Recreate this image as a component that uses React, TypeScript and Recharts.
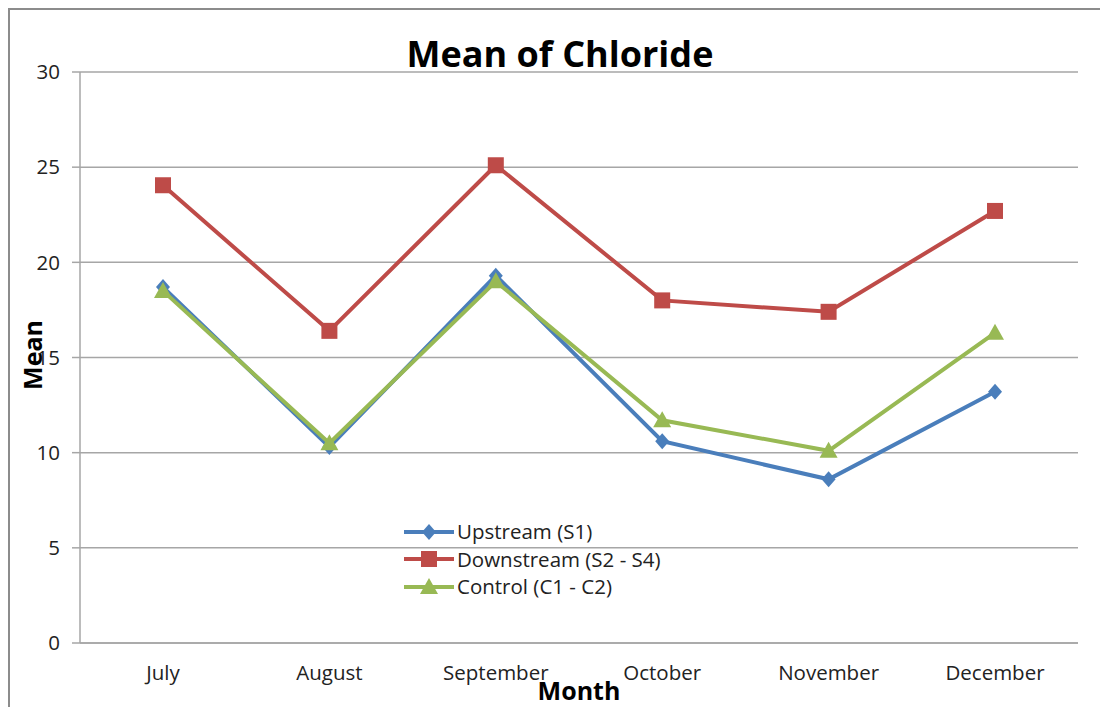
import React from "react";
import { LineChart, Line, XAxis, YAxis, CartesianGrid } from "recharts";

const months = ["July", "August", "September", "October", "November", "December"];
const upstream = [18.7, 10.3, 19.3, 10.6, 8.6, 13.2];
const downstream = [24.05, 16.4, 25.1, 18.0, 17.4, 22.7];
const control = [18.5, 10.5, 19.0, 11.7, 10.1, 16.3];
const yTicks = [0, 5, 10, 15, 20, 25, 30];

const FONT = "'Open Sans', sans-serif";

const SERIES = [
  { key: "up", name: "Upstream (S1)", color: "#4a7ebb", shape: "diamond" },
  { key: "down", name: "Downstream (S2 - S4)", color: "#be4b48", shape: "square" },
  { key: "ctrl", name: "Control (C1 - C2)", color: "#98b954", shape: "triangle" },
];

const data = months.map((m, i) => ({
  month: m,
  up: upstream[i],
  down: downstream[i],
  ctrl: control[i],
}));

function Marker({ cx, cy, shape, color }: { cx: number; cy: number; shape: string; color: string }) {
  if (cx == null || cy == null) return null;
  if (shape === "square") {
    return <rect x={cx - 8} y={cy - 8} width={16} height={16} fill={color} />;
  }
  if (shape === "diamond") {
    return (
      <polygon
        points={`${cx},${cy - 8} ${cx + 7},${cy} ${cx},${cy + 8} ${cx - 7},${cy}`}
        fill={color}
      />
    );
  }
  return (
    <polygon
      points={`${cx},${cy - 9} ${cx + 9},${cy + 7} ${cx - 9},${cy + 7}`}
      fill={color}
    />
  );
}

function LegendBox() {
  return (
    <div
      style={{
        position: "absolute",
        left: 404,
        top: 518,
        fontFamily: FONT,
        fontSize: 20.5,
        color: "#222",
        lineHeight: "27px",
      }}
    >
      {SERIES.map((s) => (
        <div key={s.key} style={{ display: "flex", alignItems: "center", height: 27.5 }}>
          <svg width={52} height={20}>
            <line x1={0} y1={10} x2={50} y2={10} stroke={s.color} strokeWidth={4} />
            <Marker cx={25} cy={10} shape={s.shape} color={s.color} />
          </svg>
          <span style={{ marginLeft: 1 }}>{s.name}</span>
        </div>
      ))}
    </div>
  );
}

export default function App() {
  return (
    <div style={{ position: "absolute", left: 0, top: 0, width: 1100, height: 707, overflow: "hidden", background: "#fff" }}>
      <div
        style={{
          position: "absolute",
          left: 8,
          top: 8,
          width: 1100,
          height: 720,
          border: "2px solid #8c8c8c",
        }}
      />
      <LineChart
        width={1100}
        height={707}
        data={data}
        margin={{ top: 72, right: 22, bottom: 0, left: 0 }}
        style={{ position: "absolute", left: 0, top: 0 }}
      >
        <text x={560} y={67} textAnchor="middle" fontFamily={FONT} fontSize={36} fontWeight="bold" fill="#000">
          Mean of Chloride
        </text>
        <text
          x={32}
          y={355}
          transform="rotate(-90, 32, 355)"
          textAnchor="middle"
          dominantBaseline="central"
          fontFamily={FONT}
          fontSize={25}
          fontWeight="bold"
          fill="#000"
        >
          Mean
        </text>
        <CartesianGrid vertical={false} stroke="#a6a6a6" strokeWidth={1.5} />
        <XAxis
          dataKey="month"
          height={64}
          padding={{ left: 83, right: 83 }}
          stroke="#a6a6a6"
          strokeWidth={1.5}
          tickLine={false}
          interval={0}
          tick={{ fill: "#222", fontSize: 20.5, fontFamily: FONT }}
          tickMargin={16}
          label={{ value: "Month", position: "insideBottom", offset: 7, fill: "#000", fontSize: 25, fontWeight: "bold", fontFamily: FONT }}
        />
        <YAxis
          domain={[0, 30]}
          ticks={yTicks}
          width={80}
          stroke="#a6a6a6"
          strokeWidth={1.5}
          tickSize={8}
          tick={{ fill: "#222", fontSize: 20.5, fontFamily: FONT }}
          tickMargin={12}
        />
        {SERIES.map((s) => (
          <Line
            key={s.key}
            dataKey={s.key}
            name={s.name}
            stroke={s.color}
            strokeWidth={4}
            isAnimationActive={false}
            dot={(p: any) => <Marker key={`${s.key}-${p.index}`} cx={p.cx} cy={p.cy} shape={s.shape} color={s.color} />}
            activeDot={false}
          />
        ))}
      </LineChart>
      <LegendBox />
    </div>
  );
}
